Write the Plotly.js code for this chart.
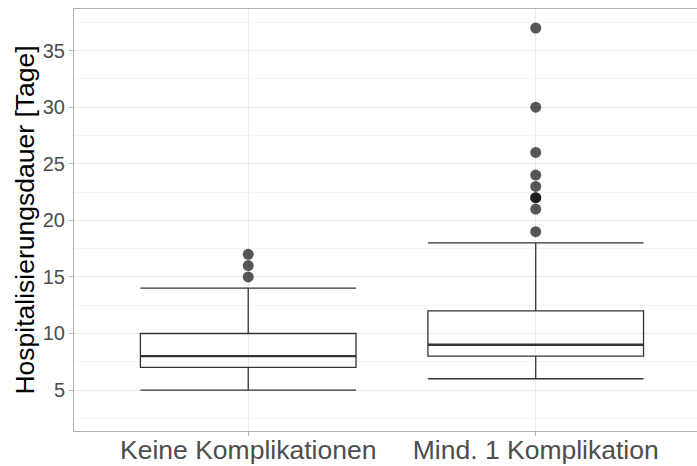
<!DOCTYPE html>
<html>
<head>
<meta charset="utf-8">
<script src="https://cdn.plot.ly/plotly-3.0.1.min.js"></script>
<style>html,body{margin:0;padding:0;background:#fff}#chart{width:697px;height:466px}</style>
</head>
<body>
<div id="chart"></div>
<script>
// Data
const categories = ["Keine Komplikationen", "Mind. 1 Komplikation"];
const lowerWhisker = [5, 6];
const q1Values = [7, 8];
const medianValues = [8, 9];
const q3Values = [10, 12];
const upperWhisker = [14, 18];
const outliersKeine = [15, 16, 17];
const outliersMind = [19, 21, 22, 22, 23, 24, 26, 30, 37];
const yTickValues = [5, 10, 15, 20, 25, 30, 35];

const boxWidth = 0.75;
const catPos = categories.map((c, i) => i);

const traces = [];
traces.push({
  type: 'box',
  x: catPos,
  q1: q1Values,
  median: medianValues,
  q3: q3Values,
  lowerfence: lowerWhisker,
  upperfence: upperWhisker,
  width: boxWidth,
  whiskerwidth: 1,
  boxpoints: false,
  fillcolor: 'rgba(255,255,255,0)',
  line: {color: '#333333', width: 1.3},
  hoverinfo: 'skip',
  showlegend: false
});
// thicker median lines (ggplot fatten)
catPos.forEach((p, i) => {
  traces.push({
    type: 'scatter', mode: 'lines',
    x: [p - boxWidth / 2, p + boxWidth / 2],
    y: [medianValues[i], medianValues[i]],
    line: {color: '#333333', width: 2.4},
    hoverinfo: 'skip', showlegend: false
  });
});
const outlierSets = [outliersKeine, outliersMind];
outlierSets.forEach((vals, i) => {
  traces.push({
    type: 'scatter', mode: 'markers',
    x: vals.map(() => catPos[i]),
    y: vals,
    marker: {color: 'rgba(0,0,0,0.66)', size: 11, line: {width: 0}},
    hoverinfo: 'skip', showlegend: false
  });
});

const layout = {
  width: 697, height: 466,
  margin: {l: 74, r: 0, t: 9, b: 35},
  paper_bgcolor: '#ffffff', plot_bgcolor: '#ffffff',
  font: {family: '"Liberation Sans", Arial, sans-serif'},
  showlegend: false,
  xaxis: {
    range: [-0.606, 1.561],
    tickmode: 'array', tickvals: catPos, ticktext: categories,
    tickfont: {size: 26.5, color: '#4D4D4D'},
    ticks: 'outside', ticklen: 4, tickcolor: '#B3B3B3', tickwidth: 1,
    ticklabelstandoff: -9,
    automargin: false,
    showgrid: true, gridcolor: '#EBEBEB', gridwidth: 1,
    showline: true, linecolor: '#B3B3B3', linewidth: 1, mirror: true,
    zeroline: false
  },
  yaxis: {
    range: [1.38, 38.68],
    tickmode: 'array', tickvals: yTickValues,
    tickfont: {size: 20, color: '#4D4D4D'},
    ticks: 'outside', ticklen: 4, tickcolor: '#B3B3B3', tickwidth: 1,
    automargin: false,
    showgrid: true, gridcolor: '#EBEBEB', gridwidth: 1,
    minor: {dtick: 2.5, tick0: 0, showgrid: true, gridcolor: '#F5F5F5', gridwidth: 1, ticks: ''},
    showline: true, linecolor: '#B3B3B3', linewidth: 1, mirror: false,
    zeroline: false,
    title: {text: 'Hospitalisierungsdauer [Tage]', font: {size: 26.5, color: '#000000'}, standoff: 0}
  }
};

Plotly.newPlot('chart', traces, layout, {staticPlot: true, displayModeBar: false});
</script>
</body>
</html>
